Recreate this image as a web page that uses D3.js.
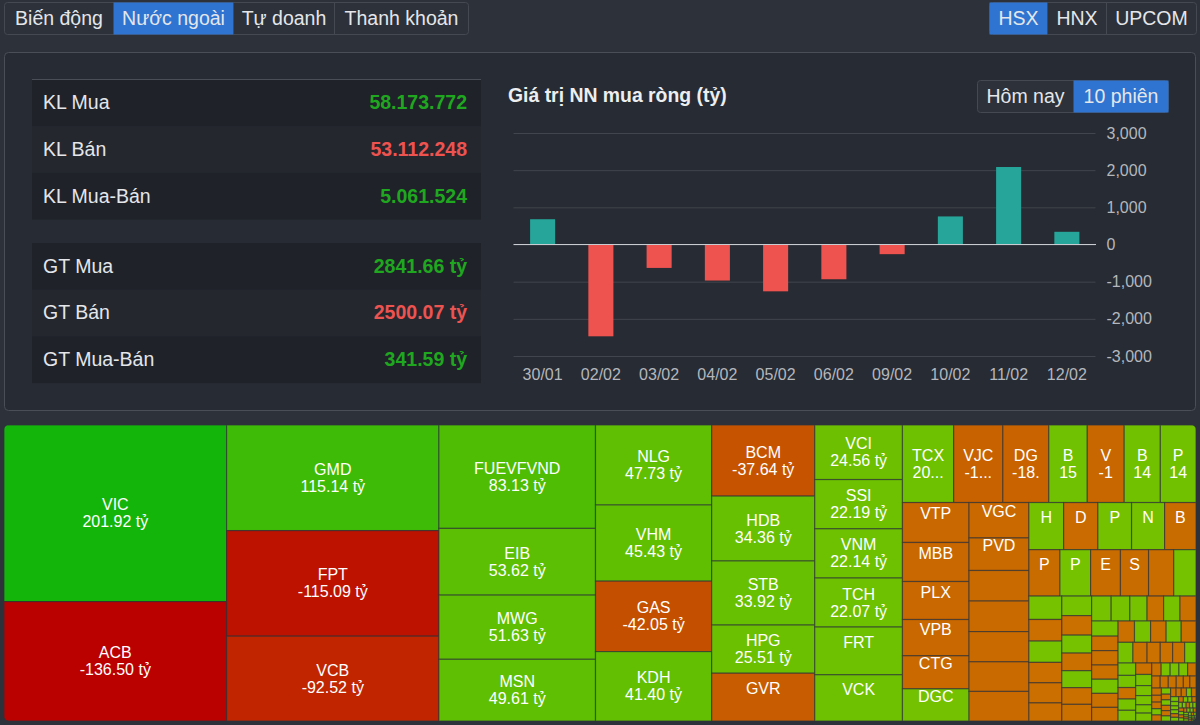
<!DOCTYPE html>
<html lang="vi">
<head>
<meta charset="utf-8">
<script src="https://cdn.jsdelivr.net/npm/d3@7"></script>
<style>
  html, body { margin: 0; padding: 0; background: #2d3139; overflow: hidden; }
  svg { display: block; font-family: "Liberation Sans", Arial, sans-serif; }
  text { fill: #e4e6ea; }
</style>
</head>
<body>
<svg id="root" width="1200" height="725"></svg>
<script>
// thanh tab
const mainTabs = ["Biến động", "Nước ngoài", "Tự doanh", "Thanh khoản"];
const exchangeTabs = ["HSX", "HNX", "UPCOM"];
const rangeTabs = ["Hôm nay", "10 phiên"];

// bang tong hop
const volumeLabels = ["KL Mua", "KL Bán", "KL Mua-Bán"];
const volumeValues = ["58.173.772", "53.112.248", "5.061.524"];
const volumeSigns = [1, -1, 1];
const tradeLabels = ["GT Mua", "GT Bán", "GT Mua-Bán"];
const tradeValues = ["2841.66 tỷ", "2500.07 tỷ", "341.59 tỷ"];
const tradeSigns = [1, -1, 1];

// bieu do cot
const sessions = ["30/01", "02/02", "03/02", "04/02", "05/02", "06/02", "09/02", "10/02", "11/02", "12/02"];
const netValues = [680, -2470, -630, -970, -1260, -935, -260, 755, 2085, 341.59];
const netTicks = [3000, 2000, 1000, 0, -1000, -2000, -3000];

// treemap: ma, gia tri (doc tu dien tich o), dong 2
const tickers = ["VIC", "ACB", "GMD", "FPT", "VCB", "FUEVFVND", "EIB", "MWG", "MSN", "NLG", "VHM", "GAS", "KDH", "BCM", "HDB", "STB", "HPG", "GVR",
  "VCI", "SSI", "VNM", "TCH", "FRT", "VCK", "TCX", "VJC", "DG", "B", "V", "B", "P", "VTP", "MBB", "PLX", "VPB", "CTG", "DGC", "VGC", "PVD"];
const tickerNotes = ["201.92 tỷ", "-136.50 tỷ", "115.14 tỷ", "-115.09 tỷ", "-92.52 tỷ", "83.13 tỷ", "53.62 tỷ", "51.63 tỷ", "49.61 tỷ", "47.73 tỷ", "45.43 tỷ", "-42.05 tỷ", "41.40 tỷ", "-37.64 tỷ", "34.36 tỷ", "33.92 tỷ", "25.51 tỷ", "",
  "24.56 tỷ", "22.19 tỷ", "22.14 tỷ", "22.07 tỷ", "", "", "20...", "-1...", "-18.", "15", "-1", "14", "14"];
const shortTickers = ["H", "D", "P", "N", "B", "P", "P", "E", "S"];
const flowValues = [201.92, -136.5, 115.14, -115.09, -92.52, 83.13, 53.62, 51.63, 49.61, 47.73, 45.43, -42.05, 41.4, -37.64, 34.36, 33.92, 25.51, -25.3,
  24.56, 22.19, 22.14, 22.07, 21.5, 20.8, 20.4, -19.6, -18.3, 15.3, -14.7, 14.4, 14.2,
  -13.65, -13.35, -13.0, -12.4, -11.3, 11.0, -10.9, -10.0, -9.4, -9.4, -9.3, -9.1, -9.1,
  8.4, -8.3, 8.15, 8.0, -7.6, -7.4, 7.3, -7.1, -6.7, -6.0, 5.3,
  3.95, -3.65, 3.6, -3.45, -3.4, -3.05,
  3.0, -2.98, 2.75, -2.7, 2.6, -2.55, -2.55,
  2.5, 2.4, 2.2, -2.12, 2.1, -2.05, 2.05,
  -1.97, -1.95, -1.93, 1.92, -1.9, -1.85,
  -1.8, 1.76, -1.7, 1.65, -1.62, 1.58,
  -1.5, -1.4, -1.32, -1.28, 1.2, 1.12,
  1.1, -1.04, 1.02, 0.97, -0.94, 0.92,
  0.82, 0.76, 0.68, 0.65, -0.63, 0.6,
  0.59, 0.58, -0.56, -0.52, -0.5,
  -0.49, -0.44, -0.4, -0.38, -0.36, -0.34,
  -0.33, 0.31, -0.3, 0.29, -0.27, 0.26,
  -0.25, -0.25, 0.24, -0.24, -0.23, -0.23,
  0.22, -0.2, 0.2, 0.18, 0.16,
  0.16, -0.15, 0.15, -0.14, 0.13,
  0.12, -0.12, 0.11, 0.11, -0.1, 0.1,
  0.09, -0.09, 0.09, -0.08, 0.08,
  -0.07, 0.07, 0.07, -0.06, 0.06,
  0.05, -0.05, 0.05, 0.05, -0.04, 0.04,
  0.03, 0.03, -0.03, 0.03, 0.02, -0.02, 0.02, 0.02];

const blue = "#2f74d0", line = "#444952", green = "#1fa81f", red = "#ee5350";
const svg = d3.select("#root");

// ve 1 nhom nut
function tabGroup(x, y, widths, labels, active, size) {
  const h = 32;
  const g = svg.append("g").attr("transform", `translate(${x},${y})`);
  const left = d3.cumsum([0].concat(widths));
  g.append("rect").attr("width", d3.sum(widths)).attr("height", h).attr("rx", 3)
    .attr("fill", "#2d3139").attr("stroke", line);
  labels.forEach(function (d, i) {
    if (i == active) {
      g.append("rect").attr("x", left[i]).attr("width", widths[i]).attr("height", h).attr("fill", blue);
    } else if (i > 0) {
      g.append("line").attr("x1", left[i]).attr("x2", left[i]).attr("y2", h).attr("stroke", line);
    }
    g.append("text").attr("x", left[i] + widths[i] / 2).attr("y", h / 2 + 6.5)
      .attr("text-anchor", "middle").attr("font-size", size).text(d);
  });
}
tabGroup(4.5, 2.5, [109, 120, 101, 134], mainTabs, 1, 19.5);
tabGroup(989.5, 2.5, [58, 59, 90], exchangeTabs, 0, 19.5);

svg.append("rect").attr("x", 4.5).attr("y", 52.5).attr("width", 1191).attr("height", 358).attr("rx", 4)
  .attr("fill", "#272b33").attr("stroke", "#4a4e56");
tabGroup(977.5, 80.5, [96, 95], rangeTabs, 1, 19.5);

// bang ben trai
function statRows(top, labels, values, signs) {
  const rowH = 46.7;
  labels.forEach(function (d, i) {
    const y = top + i * rowH;
    svg.append("rect").attr("x", 32).attr("y", y).attr("width", 449).attr("height", rowH)
      .attr("fill", i % 2 == 0 ? "#1f2229" : "#24272e");
    svg.append("text").attr("x", 43).attr("y", y + rowH / 2 + 6.3).attr("font-size", 19.5).text(d);
    svg.append("text").attr("x", 467).attr("y", y + rowH / 2 + 6.3).attr("text-anchor", "end")
      .attr("font-size", 19.5).attr("font-weight", "bold").style("fill", signs[i] > 0 ? green : red).text(values[i]);
  });
}
statRows(79.5, volumeLabels, volumeValues, volumeSigns);
statRows(243, tradeLabels, tradeValues, tradeSigns);
svg.append("line").attr("x1", 32).attr("x2", 481).attr("y1", 79.5).attr("y2", 79.5).attr("stroke", "#4a4e56");

// bieu do cot
svg.append("text").attr("x", 508).attr("y", 102).attr("font-size", 19.4).attr("font-weight", "bold")
  .style("fill", "#eceef0").text("Giá trị NN mua ròng (tỷ)");

const x = d3.scaleBand().domain(sessions).range([513.5, 1096]).paddingInner(0.57).paddingOuter(0.285);
const y = d3.scaleLinear().domain([-3000, 3000]).range([356, 133]);

const yAxis = d3.axisRight(y).tickValues(netTicks).tickSize(582).tickPadding(11)
  .tickFormat(d => d3.format(",")(d).replace("−", "-"));
const yG = svg.append("g").attr("transform", "translate(513.5,0)").call(yAxis);
yG.select(".domain").remove();
yG.selectAll("line").attr("stroke", "#41454d");
yG.selectAll("text").attr("font-size", 16).attr("font-family", "Liberation Sans").style("fill", "#b4b7bd");

svg.selectAll("rect.bar").data(netValues).enter().append("rect")
  .attr("class", "bar")
  .attr("x", (d, i) => x(sessions[i]))
  .attr("y", d => y(Math.max(d, 0)))
  .attr("width", x.bandwidth())
  .attr("height", d => Math.abs(y(d) - y(0)))
  .attr("fill", d => d > 0 ? "#26a69a" : "#ef5350");
svg.append("line").attr("x1", 513.5).attr("x2", 1096).attr("y1", y(0)).attr("y2", y(0)).attr("stroke", "#c9ccd1");

const xAxis = d3.axisBottom(x).tickSize(0).tickPadding(13);
const xG = svg.append("g").attr("transform", "translate(0,356)").call(xAxis);
xG.select(".domain").remove();
xG.selectAll("text").attr("font-size", 16).attr("font-family", "Liberation Sans").style("fill", "#b4b7bd");

// treemap
const mapX = 4, mapY = 425, mapW = 1192, mapH = 296;
const root = d3.hierarchy({
  children: flowValues.map(function (v, i) {
    // 39 o dau co ma rieng, 9 o sau chi hien 1 ky tu
    let name = "";
    if (i < 39) name = tickers[i];
    else if (i >= 44 && i < 53) name = shortTickers[i - 44];
    return { name: name, note: tickerNotes[i] || "", value: v };
  })
}).sum(d => Math.abs(d.value || 0));

d3.treemap().tile(d3.treemapSquarify).size([mapW, mapH]).round(false)(root);

const upColor = d3.scaleLinear().domain([0, 200]).range(["#78c200", "#14b50a"]);
const downColor = d3.scaleLinear().domain([0, -136.5]).range(["#ca7200", "#bb0000"]);

svg.append("clipPath").attr("id", "mapClip").append("rect")
  .attr("width", mapW).attr("height", mapH).attr("rx", 5);
const map = svg.append("g").attr("transform", `translate(${mapX},${mapY})`).attr("clip-path", "url(#mapClip)");

const tile = map.selectAll("g").data(root.leaves()).enter().append("g")
  .attr("transform", d => `translate(${d.x0},${d.y0})`);
tile.append("rect")
  .attr("width", d => d.x1 - d.x0)
  .attr("height", d => d.y1 - d.y0)
  .attr("fill", d => d.data.value > 0 ? upColor(d.data.value) : downColor(d.data.value))
  .attr("stroke", "rgba(45,50,58,0.6)")
  .attr("stroke-width", 1.2);

tile.filter(d => d.data.name).append("text")
  .attr("x", d => (d.x1 - d.x0) / 2)
  .attr("y", d => (d.y1 - d.y0) / 2 - 3)
  .attr("text-anchor", "middle").attr("font-size", 16).style("fill", "#fff")
  .text(d => d.data.name);
tile.filter(d => d.data.note).append("text")
  .attr("x", d => (d.x1 - d.x0) / 2)
  .attr("y", d => (d.y1 - d.y0) / 2 + 14)
  .attr("text-anchor", "middle").attr("font-size", 16).style("fill", "#fff")
  .text(d => d.data.note);
</script>
</body>
</html>
